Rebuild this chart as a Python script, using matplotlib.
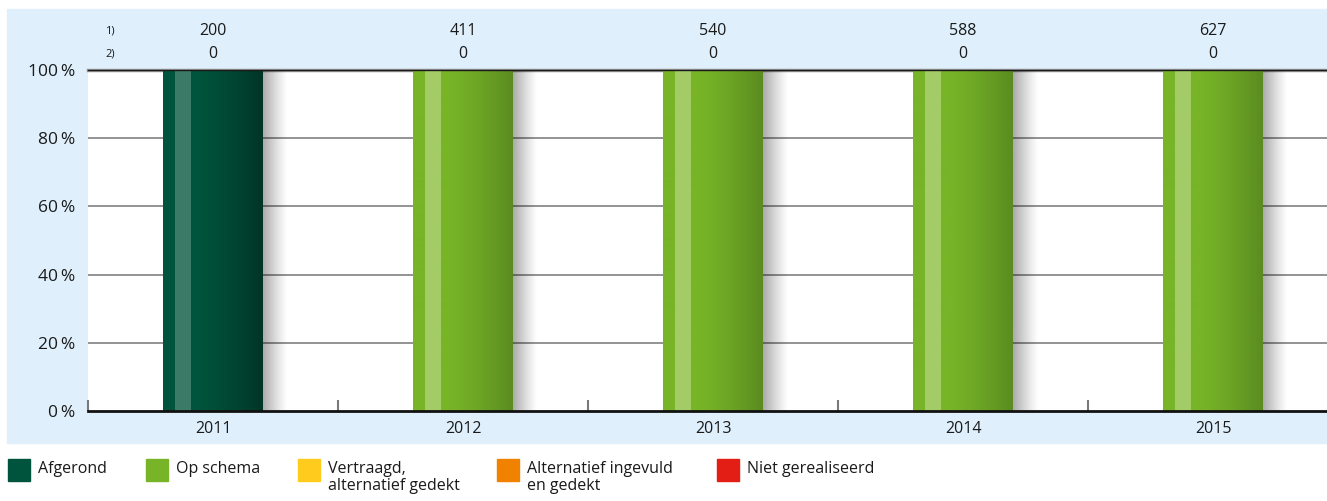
import numpy as np
import matplotlib.pyplot as plt
from matplotlib.colors import LinearSegmentedColormap
from matplotlib.patches import Rectangle

# Gegevens
years = ['2011', '2012', '2013', '2014', '2015']
afgerond = [100, 0, 0, 0, 0]
op_schema = [0, 100, 100, 100, 100]
vertraagd = [0, 0, 0, 0, 0]
alternatief = [0, 0, 0, 0, 0]
niet_gerealiseerd = [0, 0, 0, 0, 0]
row1 = [200, 411, 540, 588, 627]
row2 = [0, 0, 0, 0, 0]

series = [
    ('Afgerond', afgerond, '#00533c', '#003526', '#3a7a66'),
    ('Op schema', op_schema, '#78b428', '#5a8c20', '#a3cb66'),
    ('Vertraagd,\nalternatief gedekt', vertraagd, '#ffcc1e', '#d9a800', '#ffe27a'),
    ('Alternatief ingevuld\nen gedekt', alternatief, '#f08200', '#c86a00', '#f6b060'),
    ('Niet gerealiseerd', niet_gerealiseerd, '#e31e14', '#b01008', '#ee7a72'),
]

plt.rcParams['font.family'] = ['Open Sans', 'DejaVu Sans']
W, H = 1327, 501
fig = plt.figure(figsize=(W / 100, H / 100), dpi=100)

# lichtblauw paneel
fig.patches.append(Rectangle((7 / W, (H - 443) / H), (W - 7) / W, (443 - 9) / H,
                             transform=fig.transFigure, color='#dff0fc', zorder=-10))

ax = fig.add_axes([88 / W, (H - 411) / H, (W - 88) / W, (411 - 70) / H])
ax.set_zorder(1)
ax.set_facecolor('white')

x = np.arange(len(years))
width = 0.4
bottom = np.zeros(len(years))
grad = np.linspace(0, 1, 100)
grad = np.where(grad < 0.35, 0, (grad - 0.35) / 0.65) ** 1.3
grad = grad.reshape(1, -1)

for name, vals, c0, c1, hl in series:
    vals = np.array(vals, dtype=float)
    bars = ax.bar(x, vals, width, bottom=bottom, color=c0, zorder=3)
    cmap = LinearSegmentedColormap.from_list(name.replace('\n', ' '), [c0, c1])
    for b in bars:
        if b.get_height() <= 0:
            continue
        x0, y0 = b.get_x(), b.get_y()
        w, h = b.get_width(), b.get_height()
        im = ax.imshow(grad, cmap=cmap, aspect='auto', extent=(x0, x0 + w, y0, y0 + h),
                       zorder=4, vmin=0, vmax=1)
        im.set_clip_path(b)
        ax.add_patch(Rectangle((x0 + 0.12 * w, y0), 0.16 * w, h, color=hl, zorder=5, lw=0))
        # schaduw
        sh = np.zeros((1, 50, 4))
        sh[0, :, 3] = np.linspace(0.4, 0, 50) ** 1.2
        ax.imshow(sh, aspect='auto', extent=(x0 + w, x0 + w + 0.1, y0, y0 + h), zorder=2)
    bottom += vals

# de laatste categorie loopt tot voorbij de rand
ax.set_xlim(-0.5, -0.5 + (W - 88) / 250)
ax.set_ylim(0, 100)

# raster
for yv in [20, 40, 60, 80]:
    ax.axhline(yv, color='#8a8a8a', lw=1.3, zorder=1)
ax.axhline(100, color='#9a9a9a', lw=2.5, zorder=1, clip_on=False)
ax.axhline(100, color='#1a1a1a', lw=1.0, zorder=6, clip_on=False)

for s in ['top', 'right', 'left']:
    ax.spines[s].set_visible(False)
ax.spines['bottom'].set_linewidth(2)
ax.spines['bottom'].set_color('#111111')
ax.spines['bottom'].set_zorder(7)

ax.set_yticks([0, 20, 40, 60, 80, 100])
ax.set_yticklabels([f'{v}\u2009%' for v in [0, 20, 40, 60, 80, 100]], fontsize=12.5, color='#1a1a1a')
ax.tick_params(axis='y', length=0, pad=9)
ax.set_xticks(x)
ax.set_xticklabels(years, fontsize=11.5, color='#1a1a1a')
ax.set_xticks(np.arange(-0.5, 4.5, 1), minor=True)
ax.tick_params(axis='x', which='major', length=0, pad=7)
ax.tick_params(axis='x', which='minor', direction='in', length=8, width=1.5, color='#7a7a7a')

# aantallen boven de staven
for xi, a, b in zip(x, row1, row2):
    ax.text(xi, 111.5, str(a), ha='center', va='center', fontsize=11.5, color='#1a1a1a', clip_on=False)
    ax.text(xi, 104.8, str(b), ha='center', va='center', fontsize=11.5, color='#1a1a1a', clip_on=False)
ax.text(-0.43, 111.5, '1)', ha='left', va='center', fontsize=8, color='#1a1a1a')
ax.text(-0.43, 104.8, '2)', ha='left', va='center', fontsize=8, color='#1a1a1a')

# legenda
leg_x = [8, 146, 298, 497, 717]
for lx, (name, vals, c0, c1, hl) in zip(leg_x, series):
    fig.patches.append(Rectangle((lx / W, (H - 481) / H), 22 / W, 22 / H,
                                 transform=fig.transFigure, color=c0))
    fig.text((lx + 30) / W, (H - 461) / H, name, ha='left', va='top', fontsize=11.5,
             color='#1a1a1a', linespacing=1.05, transform=fig.transFigure)

fig.savefig('out.png', dpi=100)
